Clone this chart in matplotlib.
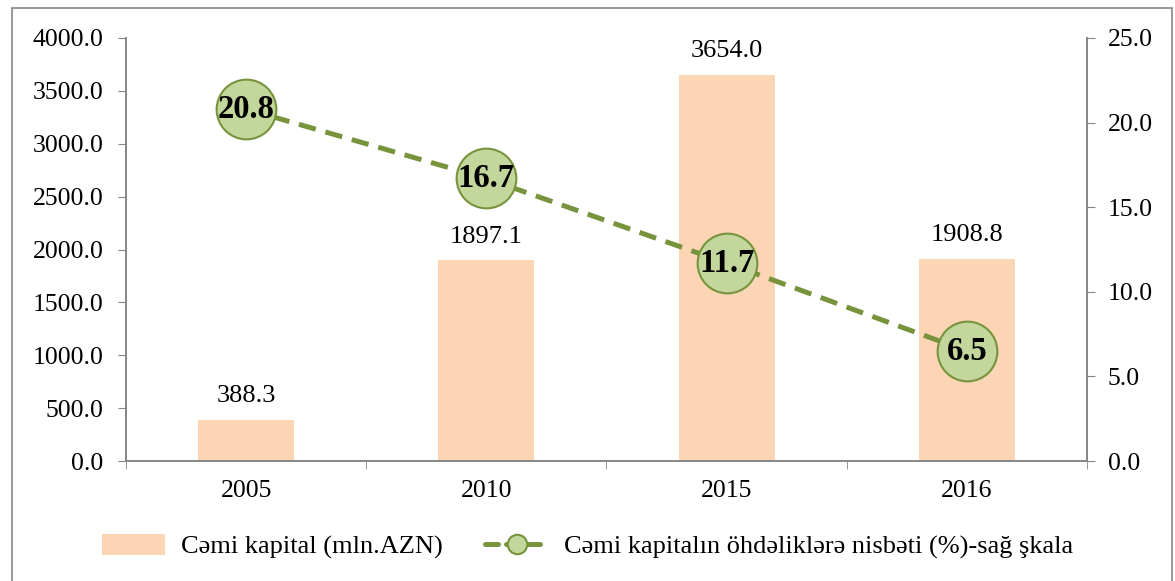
import matplotlib.pyplot as plt
from matplotlib.patches import Rectangle
from matplotlib.lines import Line2D
from matplotlib.patches import Patch

years = ['2005', '2010', '2015', '2016']
capital = [388.3, 1897.1, 3654.0, 1908.8]
ratio = [20.8, 16.7, 11.7, 6.5]

plt.rcParams['font.family'] = ['Liberation Serif', 'DejaVu Serif']

bar_color = '#FCD5B5'
line_color = '#77933C'
marker_fill = '#C3D69B'
spine_color = '#868686'
fs = 18.5

fig = plt.figure(figsize=(11.75, 5.81), dpi=100)
ax = fig.add_axes([0.1072, 0.2065, 0.8179, 0.7281])
ax2 = ax.twinx()

x = list(range(len(years)))
ax.bar(x, capital, width=0.4, color=bar_color, zorder=1)
for xi, v in zip(x, capital):
    ax.text(xi, v + 120, f'{v:.1f}', ha='center', va='bottom', fontsize=19)

ax.set_xlim(-0.5, len(years) - 0.5)
ax.set_ylim(0, 4000)
ax.set_yticks(range(0, 4001, 500))
ax.set_yticklabels([f'{v:.1f}' for v in range(0, 4001, 500)], fontsize=fs)
ax.set_xticks(x)
ax.set_xticklabels(years, fontsize=fs)
ax.set_xticks([i - 0.5 for i in range(len(years) + 1)], minor=True)
ax.tick_params(axis='x', which='major', length=0, pad=14)
ax.tick_params(axis='x', which='minor', length=6, color=spine_color, direction='out')
ax.tick_params(axis='y', length=6, color=spine_color, pad=10)

ax2.plot(x, ratio, color=line_color, linestyle=(0, (3.5, 2)), linewidth=3.6,
         marker='o', markersize=43, markerfacecolor=marker_fill,
         markeredgecolor=line_color, markeredgewidth=1.5, zorder=3)
for xi, v in zip(x, ratio):
    ax2.text(xi, v, f'{v:.1f}', ha='center', va='center', fontsize=23.5,
             fontweight='bold', zorder=4)
ax2.set_ylim(0, 25)
ax2.set_yticks([0, 5, 10, 15, 20, 25])
ax2.set_yticklabels([f'{v:.1f}' for v in [0, 5, 10, 15, 20, 25]], fontsize=fs)
ax2.tick_params(axis='y', length=6, color=spine_color, pad=9)

for a in (ax, ax2):
    a.spines['top'].set_visible(False)
    for s in ('left', 'right', 'bottom'):
        a.spines[s].set_color(spine_color)
        a.spines[s].set_linewidth(1.2)

handles = [
    Patch(facecolor=bar_color, edgecolor='none', label='Cəmi kapital (mln.AZN)'),
    Line2D([0], [0], color=line_color, linestyle=(0, (2.6, 1.6)), linewidth=3.6,
           dash_capstyle='round', marker='o', markersize=14,
           markerfacecolor=marker_fill, markeredgecolor=line_color,
           markeredgewidth=1.5,
           label='Cəmi kapitalın öhdəliklərə nisbəti (%)-sağ şkala'),
]
fig.legend(handles=handles, loc='center', bbox_to_anchor=(0.5, 0.059), ncol=2,
           frameon=False, fontsize=19, handlelength=2.4, handleheight=0.8,
           columnspacing=1.6, handletextpad=0.6)

fig.patches.append(Rectangle((12 / 1175, -0.05), 1160 / 1175, 1.05 - 8 / 581,
                             transform=fig.transFigure, fill=False,
                             edgecolor=spine_color, linewidth=1.2))

fig.savefig('out.png', dpi=100)
